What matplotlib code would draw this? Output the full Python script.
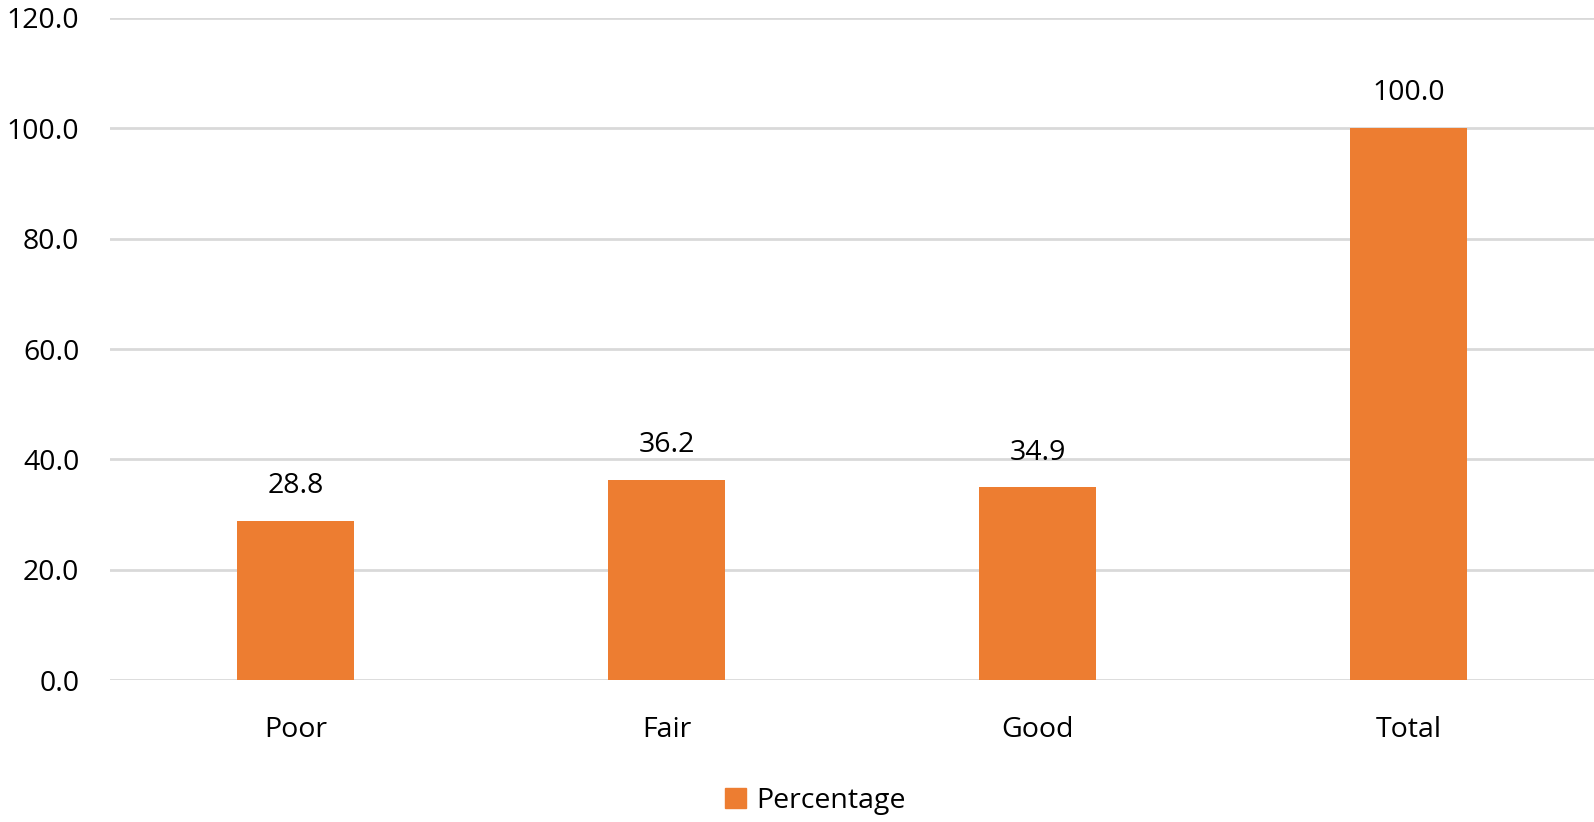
import matplotlib
matplotlib.use("Agg")
import matplotlib.pyplot as plt
from matplotlib.patches import Patch

categories = ["Poor", "Fair", "Good", "Total"]
values = [28.8, 36.2, 34.9, 100.0]
yticks = [0, 20, 40, 60, 80, 100, 120]

plt.rcParams['font.family'] = ['Open Sans', 'DejaVu Sans']
fig = plt.figure(figsize=(15.94, 8.22), dpi=100)
ax = fig.add_axes([110/1594, 1-680/822, 1-110/1594, (680-18)/822])

x = list(range(len(categories)))
ax.bar(x, values, width=0.315, color="#ED7D31", zorder=3)
ax.set_xlim(-0.5, len(categories)-0.5)
ax.set_ylim(0, 120)
ax.set_yticks(yticks)
ax.set_yticklabels([f"{v:.1f}" for v in yticks])
ax.set_xticks(x)
ax.set_xticklabels(categories)
ax.tick_params(axis='both', length=0, labelsize=20.5, colors="black")
ax.tick_params(axis='y', pad=22)
ax.tick_params(axis='x', pad=26)
ax.grid(axis='y', color="#D9D9D9", linewidth=2, zorder=0)
for s in ax.spines.values():
    s.set_visible(False)
for xi, v in zip(x, values):
    ax.annotate(f"{v:.1f}", (xi, v), xytext=(0, 15), textcoords="offset points",
                ha="center", va="bottom", fontsize=20.5)

fig.legend(handles=[Patch(color="#ED7D31", label="Percentage")], loc="center",
           bbox_to_anchor=(815/1594, 1-801/822), frameon=False, fontsize=20.5,
           handlelength=0.75, handleheight=0.75, handletextpad=0.35)
fig.savefig("out.png", dpi=100)
